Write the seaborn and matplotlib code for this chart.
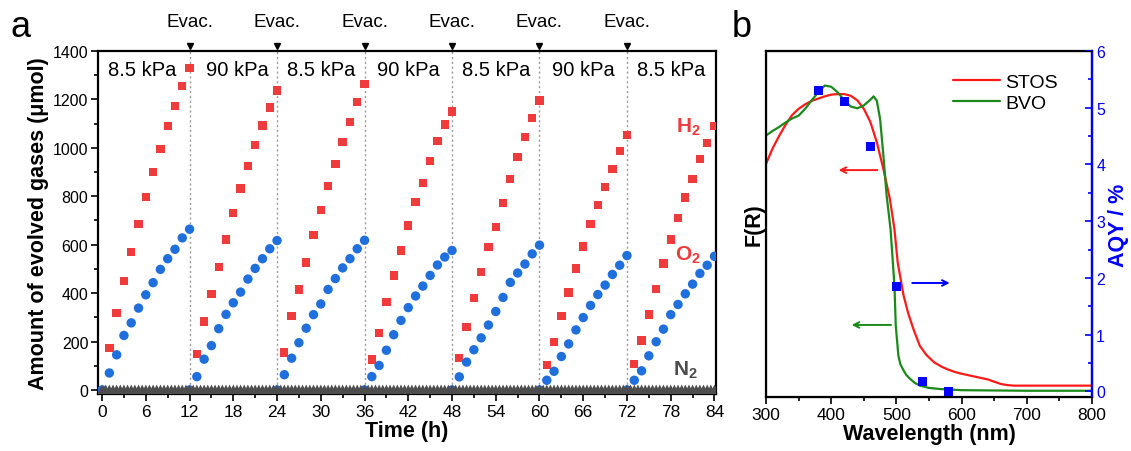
import numpy as np
import pandas as pd
import seaborn as sns
from matplotlib import pyplot as plt
from matplotlib.ticker import MultipleLocator
import matplotlib.transforms as mtransforms

# данные панели (a): выделение газов по часам (1..84 ч)
hours = np.arange(1, 85)
h2 = [174, 318, 450, 570, 684, 796, 899, 995, 1089, 1172, 1255, 1329,
      149, 283, 396, 509, 622, 731, 832, 926, 1012, 1092, 1167, 1237,
      155, 306, 415, 526, 639, 742, 842, 934, 1023, 1108, 1190, 1263,
      126, 235, 362, 472, 576, 679, 776, 855, 946, 1029, 1097, 1150,
      132, 259, 379, 487, 590, 673, 773, 870, 963, 1045, 1122, 1195,
      104, 197, 304, 402, 501, 593, 684, 764, 839, 912, 986, 1052,
      106, 204, 311, 417, 522, 622, 709, 795, 870, 954, 1019, 1091]
o2 = [70, 145, 225, 277, 338, 393, 443, 498, 542, 581, 628, 664,
      55, 127, 183, 253, 312, 360, 404, 458, 502, 542, 583, 617,
      63, 131, 195, 255, 311, 355, 415, 460, 504, 542, 583, 618,
      55, 101, 164, 228, 287, 340, 388, 429, 473, 516, 549, 576,
      54, 115, 166, 215, 268, 324, 382, 444, 483, 520, 562, 598,
      40, 77, 138, 190, 248, 299, 349, 394, 433, 477, 515, 555,
      40, 79, 141, 199, 251, 311, 353, 397, 437, 481, 515, 552]
evac_times = [12, 24, 36, 48, 60, 72]
reset_times = [0, 12, 24, 36, 48, 60, 72]
reset_o2 = [0, 0, 0, 0, 0, 0, 0]
n2_time = np.arange(0, 84.5, 0.5)
n2 = np.zeros(len(n2_time))
pressure_labels = ['8.5 kPa', '90 kPa', '8.5 kPa', '90 kPa', '8.5 kPa', '90 kPa', '8.5 kPa']
pressure_x = [5.5, 18.5, 30, 42, 54, 66, 78]

# данные панели (b): спектры F(R) и AQY
stos_wl = [300, 310, 320, 330, 340, 350, 360, 370, 380, 390, 400, 410, 420, 430, 440, 450, 460, 470,
           480, 490, 497, 502, 511, 518, 526, 536, 546, 558, 570, 580, 590, 600, 620, 640, 650, 660,
           670, 680, 700, 750, 800]
stos_fr = [4.01, 4.28, 4.50, 4.70, 4.87, 4.98, 5.06, 5.12, 5.16, 5.20, 5.23, 5.24, 5.24, 5.21, 5.13, 4.98,
           4.75, 4.39, 3.92, 3.39, 2.86, 2.27, 1.69, 1.38, 1.10, 0.80, 0.64, 0.51, 0.43, 0.38, 0.34, 0.31,
           0.26, 0.21, 0.17, 0.13, 0.11, 0.10, 0.10, 0.10, 0.10]
bvo_wl = [300, 310, 320, 330, 340, 350, 360, 370, 380, 390, 400, 410, 420, 430, 440, 450, 455, 460,
          465, 470, 475, 480, 485, 491, 497, 499, 503, 506, 510, 515, 521, 528, 536, 550, 567, 600,
          700, 800]
bvo_fr = [4.51, 4.59, 4.66, 4.74, 4.81, 4.86, 4.98, 5.13, 5.27, 5.39, 5.37, 5.27, 5.13, 5.02, 4.99, 5.04,
          5.09, 5.14, 5.20, 5.12, 4.80, 4.16, 3.45, 2.86, 1.86, 1.16, 0.63, 0.48, 0.39, 0.29, 0.22, 0.15,
          0.10, 0.06, 0.04, 0.02, 0.01, 0.01]
aqy_wl = [380, 420, 460, 500, 540, 580]
aqy = [5.30, 5.11, 4.31, 1.85, 0.18, 0.0]

RED = '#ef3b3b'
BLUE = '#1f6fdc'
GREY = '#4d4d4d'

sns.set_style('ticks')
plt.rcParams['font.family'] = ['Liberation Sans', 'DejaVu Sans']
plt.rcParams['mathtext.fontset'] = 'custom'
plt.rcParams['mathtext.rm'] = 'Liberation Sans'
plt.rcParams['mathtext.bf'] = 'Liberation Sans:bold'
for k in ['text.color', 'axes.labelcolor', 'xtick.color', 'ytick.color', 'axes.edgecolor']:
    plt.rcParams[k] = 'black'

fig = plt.figure(figsize=(11.31, 4.52), dpi=100)
ax_a = fig.add_axes([0.0867, 0.126, 0.5463, 0.759])
ax_b = fig.add_axes([0.6773, 0.1195, 0.2882, 0.7655])

# ---- панель a ----
for t in evac_times:
    ax_a.axvline(t, color='#9a9a9a', linestyle=(0, (1.5, 2)), lw=1, zorder=1)

sns.scatterplot(x=hours, y=h2, marker='s', s=36, color=RED, edgecolor='none', ax=ax_a, zorder=3)
sns.scatterplot(x=hours, y=o2, marker='o', s=46, color=BLUE, edgecolor='none', ax=ax_a, zorder=3)
sns.scatterplot(x=reset_times, y=reset_o2, marker='o', s=46, color=BLUE, edgecolor='none', ax=ax_a, zorder=3)
sns.scatterplot(x=n2_time, y=n2, marker='^', s=60, color=GREY, edgecolor='none', ax=ax_a, zorder=4)

ax_a.set_xlim(-0.55, 84.2)
ax_a.set_ylim(-17, 1400)
ax_a.xaxis.set_major_locator(MultipleLocator(6))
ax_a.xaxis.set_minor_locator(MultipleLocator(3))
ax_a.yaxis.set_major_locator(MultipleLocator(200))
ax_a.yaxis.set_minor_locator(MultipleLocator(100))
ax_a.tick_params(which='major', direction='out', length=5, width=1.2, labelsize=12.5, pad=2)
ax_a.tick_params(which='minor', direction='out', length=3, width=1.2)
ax_a.tick_params(axis='y', labelsize=11.5)
for sp in ax_a.spines.values():
    sp.set_linewidth(1.6)
    sp.set_visible(True)
ax_a.set_xlabel('Time (h)', fontsize=15.5, fontweight='bold', labelpad=1)
ax_a.set_ylabel('Amount of evolved gases (\u03bcmol)', fontsize=15.5, fontweight='bold', labelpad=3)

trans = mtransforms.blended_transform_factory(ax_a.transData, ax_a.transAxes)
for t in evac_times:
    ax_a.plot([t], [1.015], marker='v', markersize=4, color='black', transform=trans, clip_on=False)
    ax_a.text(t, 1.085, 'Evac.', transform=trans, ha='center', va='center', fontsize=13.5)
for lab, xp in zip(pressure_labels, pressure_x):
    ax_a.text(xp, 0.947, lab, transform=trans, ha='center', va='center', fontsize=14.5)

ax_a.text(80.4, 1089, 'H$_\\mathbf{2}$', color=RED, fontsize=15, fontweight='bold', ha='center', va='center')
ax_a.text(80.4, 559, 'O$_\\mathbf{2}$', color=RED, fontsize=15, fontweight='bold', ha='center', va='center')
ax_a.text(80.0, 87, 'N$_\\mathbf{2}$', color=GREY, fontsize=15, fontweight='bold', ha='center', va='center')

# ---- панель b ----
sns.lineplot(x=stos_wl, y=stos_fr, color='#ff1a1a', lw=1.6, sort=False, estimator=None, ax=ax_b, label='STOS')
sns.lineplot(x=bvo_wl, y=bvo_fr, color='#1a8a1a', lw=1.6, sort=False, estimator=None, ax=ax_b, label='BVO')
ax_b.set_xlim(300, 800)
ax_b.set_ylim(-0.1, 6)
ax_b.set_yticks([])
ax_b.xaxis.set_major_locator(MultipleLocator(100))
ax_b.xaxis.set_minor_locator(MultipleLocator(50))
ax_b.tick_params(axis='x', which='major', direction='out', length=5, width=1.2, labelsize=12.5, pad=2)
ax_b.tick_params(axis='x', which='minor', direction='out', length=3, width=1.2)
for sp in ax_b.spines.values():
    sp.set_linewidth(1.6)
ax_b.set_xlabel('Wavelength (nm)', fontsize=15.5, fontweight='bold', labelpad=1)
ax_b.set_ylabel('F(R)', fontsize=15.5, fontweight='bold', labelpad=1)
ax_b.legend(loc='upper left', bbox_to_anchor=(0.52, 0.985), frameon=False, fontsize=14,
            handlelength=2.4, handletextpad=0.3, labelspacing=0.15)

ax_b.annotate('', xy=(407, 3.90), xytext=(475, 3.90),
              arrowprops=dict(arrowstyle='->', color='#ff1a1a', lw=1.4))
ax_b.annotate('', xy=(427, 1.17), xytext=(496, 1.17),
              arrowprops=dict(arrowstyle='->', color='#1a8a1a', lw=1.4))

ax_r = ax_b.twinx()
ax_r.set_position([0.6773, 0.1195, 0.2882, 0.7655])
sns.scatterplot(x=aqy_wl, y=aqy, marker='s', s=42, color='#0000ff', edgecolor='none', ax=ax_r, zorder=5, clip_on=False)
ax_r.annotate('', xy=(586, 1.91), xytext=(520, 1.91),
              arrowprops=dict(arrowstyle='->', color='#0000ff', lw=1.4))
ax_r.set_ylim(-0.1, 6)
ax_r.yaxis.set_major_locator(MultipleLocator(1))
ax_r.yaxis.set_minor_locator(MultipleLocator(0.5))
ax_r.tick_params(axis='y', which='major', direction='in', length=5, width=1.2, colors='#0000ff',
                 labelsize=11.5, pad=3)
ax_r.tick_params(axis='y', which='minor', direction='in', length=3, width=1.2, colors='#0000ff')
ax_r.spines['right'].set_color('#0000ff')
ax_r.spines['right'].set_linewidth(1.6)
ax_r.set_ylabel('AQY / %', color='#0000ff', fontsize=15.5, fontweight='bold', labelpad=2)

fig.text(0.009, 0.918, 'a', fontsize=26)
fig.text(0.647, 0.918, 'b', fontsize=26)

fig.savefig('out.png', dpi=100)
